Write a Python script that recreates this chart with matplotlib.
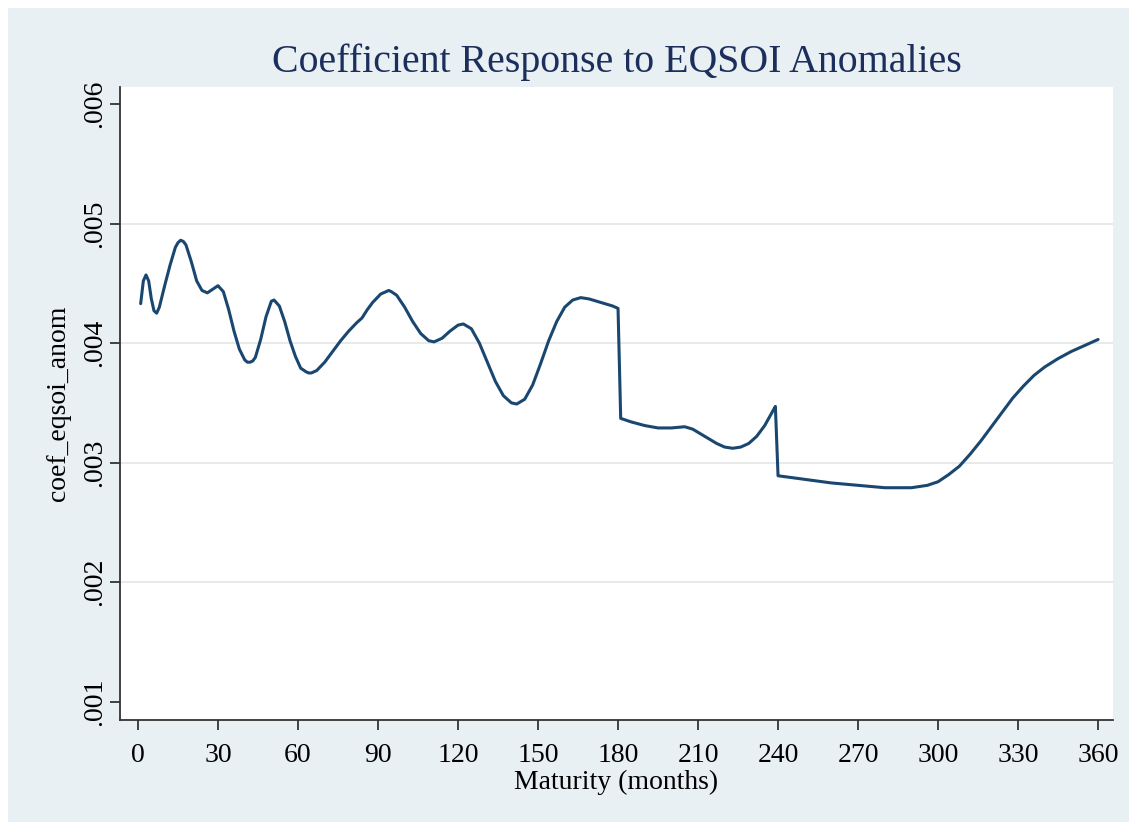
import numpy as np
import matplotlib
matplotlib.use("Agg")
import matplotlib.pyplot as plt
from matplotlib.patches import Rectangle

# values
maturity = [1, 2, 3, 4, 5, 6, 7, 8, 10, 12, 14, 15, 16, 17, 18, 20, 22, 24, 26,
            28, 30, 32, 34, 36, 38, 40, 41, 42, 43, 44, 46, 48, 50, 51, 53, 55,
            57, 59, 61, 63, 64, 65, 67, 70, 73, 76, 79, 82, 84, 86, 88, 91, 93,
            94, 95, 97, 100, 103, 106, 109, 111, 114, 117, 120, 122, 125, 128,
            131, 134, 137, 140, 142, 145, 148, 151, 154, 157, 160, 163, 166, 169,
            172, 175, 178, 180, 181, 185, 190, 195, 200, 205, 208, 211, 214, 217,
            220, 223, 226, 229, 232, 235, 238, 239, 240, 250, 260, 270, 280, 290,
            296, 300, 304, 308, 312, 316, 320, 324, 328, 332, 336, 340, 345, 350,
            355, 360]
coef = [.00433, .00452, .00457, .00452, .00437, .00427, .00425, .00430, .00448,
        .00465, .00480, .00484, .00486, .00485, .00482, .00468, .00452, .00444,
        .00442, .00445, .00448, .00443, .00428, .00410, .00395, .00386, .00384,
        .00384, .00385, .00388, .00403, .00422, .00435, .00436, .00431, .00418,
        .00402, .00389, .00379, .00376, .00375, .00375, .00377, .00384, .00393,
        .00402, .00410, .00417, .00421, .00428, .00434, .00441, .00443, .00444,
        .00443, .00440, .00430, .00418, .00408, .00402, .00401, .00404, .00410,
        .00415, .00416, .00412, .00400, .00384, .00368, .00356, .00350, .00349,
        .00353, .00365, .00383, .00402, .00418, .00430, .00436, .00438, .00437,
        .00435, .00433, .00431, .00429, .00337, .00334, .00331, .00329, .00329,
        .00330, .00328, .00324, .00320, .00316, .00313, .00312, .00313, .00316,
        .00322, .00331, .00343, .00347, .00289, .00286, .00283, .00281, .00279,
        .00279, .00281, .00284, .00290, .00297, .00307, .00318, .00330, .00342,
        .00354, .00364, .00373, .00380, .00387, .00393, .00398, .00403]

xticks = list(range(0, 361, 30))
yticks = [.001, .002, .003, .004, .005, .006]
ytick_labels = [".001", ".002", ".003", ".004", ".005", ".006"]

W, H = 1133, 826
bg = "#e9f0f3"
navy = "#1a476f"

fig = plt.figure(figsize=(W / 100, H / 100), dpi=100, facecolor="white")
fig.patches.append(Rectangle((8 / W, 4 / H), (W - 12) / W, (H - 12) / H,
                             transform=fig.transFigure, facecolor=bg,
                             edgecolor="none", zorder=-10))

plt.rcParams["font.family"] = ["Liberation Serif", "DejaVu Serif"]

ax = fig.add_axes([120 / W, 1 - 720 / H, (1113 - 120) / W, (720 - 87) / H])
ax.set_facecolor("white")

for y in yticks[1:-1]:
    ax.axhline(y, color="#e6e8e8", lw=1.3, zorder=0)

ax.plot(maturity, coef, color=navy, lw=2.2, zorder=3,
        solid_joinstyle="round", solid_capstyle="round")

ax.set_xlim(-6.75, 365.6)
ax.set_ylim(0.000847, 0.006142)
ax.set_xticks(xticks)
ax.set_xticklabels([str(t) for t in xticks], fontsize=20)
ax.set_yticks(yticks)
ax.set_yticklabels(ytick_labels, fontsize=20, rotation=90, va="center")

for s in ["top", "right"]:
    ax.spines[s].set_visible(False)
for s in ["left", "bottom"]:
    ax.spines[s].set_color("#333333")
    ax.spines[s].set_linewidth(1.3)
ax.tick_params(axis="both", direction="out", length=7.5, width=1.3,
               color="#333333")
ax.tick_params(axis="x", pad=9)
ax.tick_params(axis="y", pad=2)

ax.set_xlabel("Maturity (months)", fontsize=20, va="center")
ax.xaxis.set_label_coords(0.5, -0.098)
ax.set_ylabel("coef_eqsoi_anom", fontsize=20, va="center")
ax.yaxis.set_label_coords(-0.0624, 0.5)

fig.text(616.5 / W, 1 - 62 / H, "Coefficient Response to EQSOI Anomalies",
         ha="center", va="center", fontsize=28.7, color="#1c2e5c")

fig.savefig("out.png", dpi=100, facecolor="white")
